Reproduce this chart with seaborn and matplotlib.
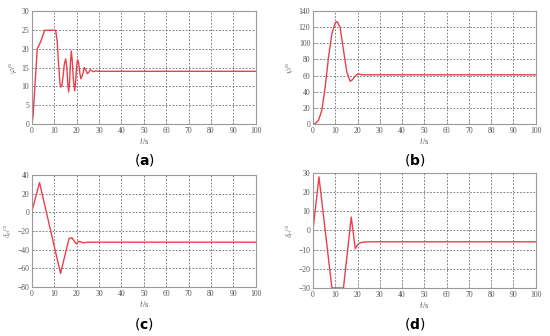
import seaborn as sns
import matplotlib.pyplot as plt
import pandas as pd

# (a)
t_a = [0, 0.5, 2.4, 4.0, 5.7, 10.6, 11.3, 11.9, 12.5, 12.9, 13.4, 13.9, 14.5, 15.1, 15.6, 16.0, 16.4, 16.8, 17.2, 17.6, 18.0, 18.5, 19.1, 19.5, 20.0, 20.4, 20.9, 21.4, 21.9, 22.6, 23.4, 24.1, 24.8, 25.5, 26.1, 26.9, 27.6, 28.5, 30, 100]
y_a = [0, 2, 20, 22, 24.9, 24.9, 22, 16, 11, 9.8, 10.2, 12.5, 16, 17.3, 15, 11, 8.5, 11, 16, 19.4, 17, 12, 8.8, 11, 15.5, 17.1, 16.2, 13.5, 12.0, 13.0, 15.0, 14.3, 13.4, 13.8, 14.4, 14.1, 13.9, 14.1, 14.0, 14.0]

# (b)
t_b = [0, 1.2, 2.5, 4.0, 5.5, 7.0, 8.5, 10.0, 10.9, 12.2, 13.7, 15.2, 16.7, 17.8, 19.0, 20.1, 21.5, 23, 100]
y_b = [0, 1, 4.5, 17, 46, 83, 112, 125.5, 127, 120, 91.5, 64.6, 53, 55, 59.5, 62, 61.3, 61, 61]

# (c)
t_c = [0, 3.4, 12.8, 16.6, 17.9, 19.1, 19.9, 20.9, 21.8, 22.8, 24.3, 26, 100]
y_c = [1, 32, -65.6, -28, -27.3, -31.6, -33.7, -31, -31.6, -32.6, -32.2, -32, -32]

# (d)
t_d = [0, 2.7, 8.5, 13.7, 17.2, 19.0, 20.0, 21.2, 23.0, 25, 100]
y_d = [0, 28, -30, -30, 7, -9.5, -7.5, -6.4, -6.0, -5.9, -5.9]

panels = [
    ("a", t_a, y_a, r"$\varphi$/°", (0, 30), [0, 5, 10, 15, 20, 25, 30]),
    ("b", t_b, y_b, r"$\psi$/°", (0, 140), [0, 20, 40, 60, 80, 100, 120, 140]),
    ("c", t_c, y_c, r"$\delta_e$/°", (-80, 40), [-80, -60, -40, -20, 0, 20, 40]),
    ("d", t_d, y_d, r"$\delta_r$/°", (-30, 30), [-30, -20, -10, 0, 10, 20, 30]),
]

# axes boxes in figure fraction [left, bottom, width, height]
boxes = {
    "a": [0.058, 0.631, 0.407, 0.336],
    "b": [0.569, 0.631, 0.405, 0.336],
    "c": [0.058, 0.146, 0.407, 0.333],
    "d": [0.569, 0.143, 0.405, 0.342],
}
label_pos = {"a": (0.262, 0.525), "b": (0.755, 0.525), "c": (0.262, 0.035), "d": (0.755, 0.035)}

sns.set_theme(style="ticks")
plt.rcParams["font.family"] = ["Liberation Serif", "DejaVu Serif"]
plt.rcParams["mathtext.fontset"] = "cm"

fig = plt.figure(figsize=(5.5, 3.36), dpi=100)
fig.patch.set_facecolor("white")

for name, t, y, ylab, ylim, yticks in panels:
    ax = fig.add_axes(boxes[name])
    df = pd.DataFrame({"t": t, "y": y})
    sns.lineplot(data=df, x="t", y="y", ax=ax, color="#e8404a", linewidth=1.0)
    ax.set_xlim(0, 100)
    ax.set_ylim(*ylim)
    ax.set_xticks(range(0, 101, 10))
    ax.set_yticks(yticks)
    ax.grid(True, linestyle=(0, (2, 2)), color="#666666", linewidth=0.6)
    for s in ax.spines.values():
        s.set_color("#9a9a9a")
        s.set_linewidth(0.8)
    ax.tick_params(direction="in", length=2, width=0.5, colors="#9a9a9a",
                   labelsize=5.5, labelcolor="#555555", pad=2)
    ax.set_xlabel(r"$t$/s", fontsize=6, color="#555555", labelpad=1)
    ax.set_ylabel(ylab, fontsize=6, color="#555555", labelpad=2)
    fig.text(label_pos[name][0], label_pos[name][1], "(" + r"$\mathbf{" + name + "}$" + ")",
             ha="center", va="center", fontsize=10, family="DejaVu Sans",
             math_fontfamily="dejavusans", color="black")

fig.savefig("out.png", dpi=100, facecolor="white")
